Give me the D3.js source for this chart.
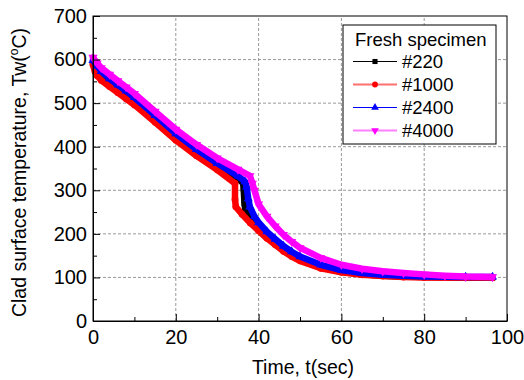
<!DOCTYPE html>
<html>
<head>
<meta charset="utf-8">
<script src="https://cdn.jsdelivr.net/npm/d3@7"></script>
<style>
  body { margin: 0; background: #fff; }
  svg { font-family: "Liberation Sans", Arial, sans-serif; }
  .grid line { stroke: #999; stroke-dasharray: 3,2; stroke-width: 1; }
  .axis text { font-size: 20px; fill: #000; }
  .axis line, .axis path { stroke: #000; }
</style>
</head>
<body>
<div id="chart"></div>
<script>
// series values: [time (s), temperature (°C)]
const s220 = [[0,592],[1,578],[2,566],[4,550],[6,536],[8,521],[10,507],[15,466],[20,425],[25,389],[30,357],[35,328],
  [36.3,316],[36.4,304],[36.5,285],[36.6,270],[36.8,255],[38,238],[40,215],[42,197],[44,181],[46,166],[48,153],[50,142],
  [55,124],[60,113],[65,107],[70,104],[75,102],[80,101],[90,100],[96.5,100]];
const s1000 = [[0,588],[0.5,572],[1,563],[2,552],[4,538],[6,524],[8,510],[10,496],[15,456],[20,415],[25,379],[30,347],
  [34.3,316],[34.3,279],[34.5,262],[36,245],[38,225],[40,207],[42,190],[44,175],[46,160],[48,148],[50,138],
  [55,121],[60,112],[65,106],[70,103],[75,101],[80,100],[90,99],[96.5,99]];
const s2400 = [[0,598],[1,585],[2,573],[4,556],[6,542],[8,528],[10,513],[15,472],[20,430],[25,394],[30,362],[35,333],
  [36.7,320],[37.1,308],[37.5,281],[37.9,262],[39,240],[40,226],[42,205],[44,188],[46,172],[48,159],[50,148],
  [55,129],[60,117],[65,110],[70,106],[75,104],[80,102],[90,101],[96.5,101]];
const s4000 = [[0,605],[1,592],[2,581],[4,566],[6,551],[8,537],[10,522],[15,481],[20,440],[25,405],[30,374],[35,348],
  [37.9,333],[38.5,316],[39,300],[40,268],[42,240],[44,218],[46,198],[48,182],[50,168],[55,145],[60,129],
  [65,120],[70,114],[75,110],[80,107],[85,104],[90,102],[96.5,101]];

const seriesNames = ["#220", "#1000", "#2400", "#4000"];
const xTicks = [0, 20, 40, 60, 80, 100];
const xMinor = [10, 30, 50, 70, 90];
const yTicks = [0, 100, 200, 300, 400, 500, 600, 700];
const yMinor = [50, 150, 250, 350, 450, 550, 650];

const W = 524, H = 380;
const margin = {top: 16, left: 93, right: 17, bottom: 59};

const series = [
  {name: seriesNames[0], data: s220, color: "#000000", symbol: d3.symbolSquare, rot: 0, legendLine: "#000000"},
  {name: seriesNames[1], data: s1000, color: "#ff0000", symbol: d3.symbolCircle, rot: 0, legendLine: "#ff7070"},
  {name: seriesNames[2], data: s2400, color: "#0000ff", symbol: d3.symbolTriangle, rot: 0, legendLine: "#0000ff"},
  {name: seriesNames[3], data: s4000, color: "#ff00ff", symbol: d3.symbolTriangle, rot: 180, legendLine: "#ff80ff"}
];

const svg = d3.select("#chart").append("svg").attr("width", W).attr("height", H);

const x = d3.scaleLinear().domain([0, 100]).range([margin.left, W - margin.right]);
const y = d3.scaleLinear().domain([0, 700]).range([H - margin.bottom, margin.top]);

// dashed grid
const grid = svg.append("g").classed("grid", true);
grid.selectAll("line.gx").data(xTicks.slice(1, -1)).join("line")
  .attr("x1", d => x(d)).attr("x2", d => x(d)).attr("y1", y(0)).attr("y2", y(700));
grid.selectAll("line.gy").data(yTicks.slice(1, -1)).join("line")
  .attr("x1", x(0)).attr("x2", x(100)).attr("y1", d => y(d)).attr("y2", d => y(d));

// series: thick line + dense markers
const line = d3.line().x(d => x(d[0])).y(d => y(d[1]));
series.forEach(s => {
  const g = svg.append("g");
  g.append("path").datum(s.data)
    .attr("fill", "none").attr("stroke", s.color)
    .attr("stroke-width", 6.5).attr("stroke-linejoin", "round").attr("stroke-linecap", "round")
    .attr("d", line);
  g.selectAll("path.m").data(s.data).join("path")
    .attr("d", d3.symbol().type(s.symbol).size(36))
    .attr("fill", s.color)
    .attr("transform", d => `translate(${x(d[0])},${y(d[1])}) rotate(${s.rot})`);
});

// axes
svg.append("g").classed("axis", true)
  .attr("transform", `translate(0,${y(0)})`)
  .call(d3.axisBottom(x).tickValues(xTicks).tickSize(-7).tickSizeOuter(0).tickPadding(8.5));
svg.append("g").classed("axis", true)
  .attr("transform", `translate(0,${y(0)})`)
  .call(d3.axisBottom(x).tickValues(xMinor).tickSize(-4).tickFormat(""))
  .select(".domain").remove();
svg.append("g").classed("axis", true)
  .attr("transform", `translate(${x(0)},0)`)
  .call(d3.axisLeft(y).tickValues(yTicks).tickSize(-7).tickSizeOuter(0).tickPadding(6));
svg.append("g").classed("axis", true)
  .attr("transform", `translate(${x(0)},0)`)
  .call(d3.axisLeft(y).tickValues(yMinor).tickSize(-4).tickFormat(""))
  .select(".domain").remove();

// frame
svg.append("rect")
  .attr("x", x(0)).attr("y", y(700))
  .attr("width", x(100) - x(0)).attr("height", y(0) - y(700))
  .attr("fill", "none").attr("stroke", "#000").attr("stroke-width", 1);

// axis titles
svg.append("text")
  .attr("x", (x(0) + x(100)) / 2 + 3).attr("y", 374)
  .attr("text-anchor", "middle").attr("font-size", 19.5)
  .text("Time, t(sec)");

const yl = svg.append("text")
  .attr("transform", `translate(25.5,${(y(0) + y(700)) / 2 + 4}) rotate(-90)`)
  .attr("text-anchor", "middle").attr("font-size", 19.5);
yl.append("tspan").text("Clad surface temperature, Tw(");
yl.append("tspan").attr("font-size", 12).attr("dy", -8).text("o");
yl.append("tspan").attr("dy", 8).text("C)");

// legend
const lg = svg.append("g");
lg.append("rect")
  .attr("x", 343).attr("y", 25).attr("width", 153).attr("height", 119)
  .attr("fill", "#fff").attr("stroke", "#000").attr("stroke-width", 1);
lg.append("text").attr("x", 355).attr("y", 46).attr("font-size", 18.5).text("Fresh specimen");
series.forEach((s, i) => {
  const by = 68 + i * 23;
  const ly = by - 6.5;
  lg.append("line").attr("x1", 353).attr("x2", 397).attr("y1", ly).attr("y2", ly)
    .attr("stroke", s.legendLine).attr("stroke-width", i === 1 || i === 3 ? 2 : 1.2);
  lg.append("path")
    .attr("d", d3.symbol().type(s.symbol).size(26))
    .attr("fill", s.color)
    .attr("transform", `translate(375,${ly}) rotate(${s.rot})`);
  lg.append("text").attr("x", 402).attr("y", by).attr("font-size", 18.5).text(s.name);
});
</script>
</body>
</html>
